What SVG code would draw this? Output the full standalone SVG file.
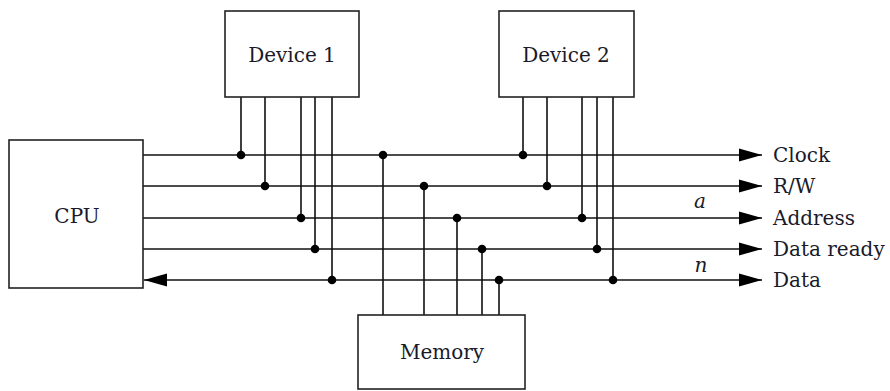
<svg xmlns="http://www.w3.org/2000/svg" width="890" height="391" viewBox="0 0 890 391">
<style>
.box{fill:#fff;stroke:#222;stroke-width:1.6}
.w{stroke:#111;stroke-width:1.6;fill:none}
.lbl{font-family:"DejaVu Serif","Liberation Serif",serif;font-size:20px;fill:#1a1a2a}
.c{text-anchor:middle}
.it{font-style:italic}
.dot{fill:#000}
</style>
<defs>
<marker id="ah" markerUnits="userSpaceOnUse" markerWidth="24" markerHeight="14" refX="23" refY="7" orient="auto-start-reverse">
<path d="M0,0.5 L23,7 L0,13.5 z" fill="#000"/>
</marker>
</defs>
<rect width="890" height="391" fill="#fff"/>
<g id="connectors">
<line class="w" x1="143" y1="155" x2="762" y2="155" marker-end="url(#ah)"/>
<line class="w" x1="143" y1="186" x2="762" y2="186" marker-end="url(#ah)"/>
<line class="w" x1="143" y1="218" x2="762" y2="218" marker-end="url(#ah)"/>
<line class="w" x1="143" y1="249" x2="762" y2="249" marker-end="url(#ah)"/>
<line class="w" x1="144" y1="280" x2="762" y2="280" marker-start="url(#ah)" marker-end="url(#ah)"/>
<path class="w" d="M241,97V155 M265,97V186 M301,97V218 M315,97V249 M332,97V280"/>
<path class="w" d="M523,97V155 M547,97V186 M582,97V218 M597,97V249 M613,97V280"/>
<path class="w" d="M383,315V155 M424,315V186 M457,315V218 M482,315V249 M499,315V280"/>
<g class="dot">
<circle cx="241" cy="155" r="4.3"/><circle cx="265" cy="186" r="4.3"/><circle cx="301" cy="218" r="4.3"/><circle cx="315" cy="249" r="4.3"/><circle cx="332" cy="280" r="4.3"/>
<circle cx="523" cy="155" r="4.3"/><circle cx="547" cy="186" r="4.3"/><circle cx="582" cy="218" r="4.3"/><circle cx="597" cy="249" r="4.3"/><circle cx="613" cy="280" r="4.3"/>
<circle cx="383" cy="155" r="4.3"/><circle cx="424" cy="186" r="4.3"/><circle cx="457" cy="218" r="4.3"/><circle cx="482" cy="249" r="4.3"/><circle cx="499" cy="280" r="4.3"/>
</g>
<text class="lbl it c" x="700" y="208">a</text>
<text class="lbl it c" x="701" y="272">n</text>
<text class="lbl" x="773" y="162">Clock</text>
<text class="lbl" x="773" y="193">R/W</text>
<text class="lbl" x="773" y="225">Address</text>
<text class="lbl" x="773" y="256">Data ready</text>
<text class="lbl" x="773" y="287">Data</text>
</g>
<g id="cpu">
<rect class="box" x="9" y="140" width="134" height="148"/>
<text class="lbl c" x="77" y="223">CPU</text>
</g>
<g id="device1">
<rect class="box" x="225" y="11" width="134" height="86"/>
<text class="lbl c" x="292" y="62">Device 1</text>
</g>
<g id="device2">
<rect class="box" x="499" y="11" width="135" height="86"/>
<text class="lbl c" x="566" y="62">Device 2</text>
</g>
<g id="memory">
<rect class="box" x="358" y="315" width="167" height="74"/>
<text class="lbl c" x="442" y="359">Memory</text>
</g>
</svg>
